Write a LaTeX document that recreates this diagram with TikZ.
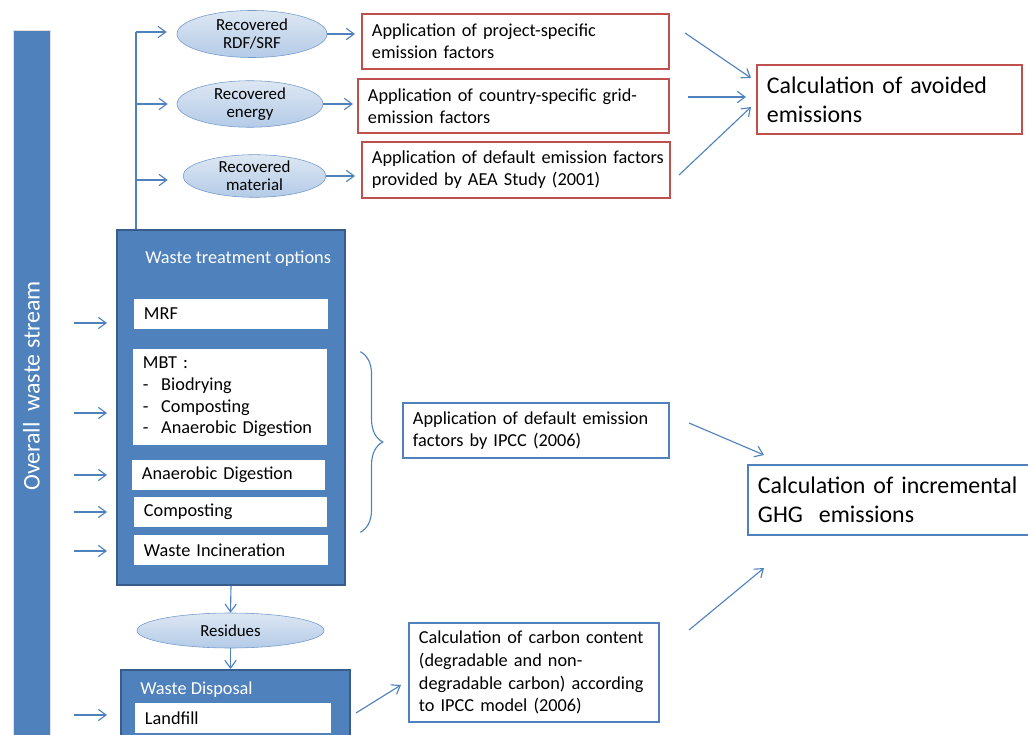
\documentclass[tikz,border=0pt]{standalone}
\usepackage{fontspec}
\setmainfont{Carlito}
\usepackage{tikz}
\usetikzlibrary{shapes.geometric, positioning}
\usetikzlibrary{arrows.meta, calc, decorations.pathreplacing}

\definecolor{wsblue}{HTML}{4F81BD}
\definecolor{wsdark}{HTML}{385D8A}
\definecolor{wsred}{HTML}{C0504D}
\definecolor{wslight}{HTML}{DDE7F3}
\definecolor{wsmid}{HTML}{B4CBE7}
\hyphenpenalty=10000

\begin{document}
\begin{tikzpicture}[
        x=0.025cm, y=-0.025cm,
        font=\fontsize{13}{15.5}\selectfont,
        arr/.style={draw=wsblue, line width=0.8pt, -{Straight Barb[length=5.5pt, width=8pt]}},
        redbox/.style={draw=wsred, line width=1.4pt, align=left, inner xsep=0.25cm, inner ysep=0pt},
        bluebox/.style={draw=wsblue, line width=1.4pt, align=left, inner xsep=0.25cm, inner ysep=0pt},
        outcome/.style={font=\fontsize{17}{20.6}\selectfont},
        optbox/.style={fill=white, align=left, inner xsep=0.25cm, inner ysep=0pt, minimum height=0.75cm},
        group/.style={fill=wsblue, draw=wsdark, line width=1.4pt},
        recovered/.style={ellipse, draw=wsblue!80, top color=wslight, bottom color=wsmid, align=center, inner sep=0pt, font=\fontsize{12}{13}\selectfont}
    ]
        \useasboundingbox (0,0) rectangle (1028,735);

        \node[fill=wsblue, draw=black!12, line width=0.6pt, rotate=90, minimum width=17.75cm, minimum height=0.925cm, text=white, font=\fontsize{17}{20}\selectfont] (stream) at (31.5,386) {Overall\ \ waste stream};

        % treatment and disposal
        \node[group, minimum width=5.7cm, minimum height=8.875cm] (treat) at (231,407.5) {};
        \node[anchor=west, text=white, inner sep=0pt] (treattitle) at (145,259) {Waste treatment options};
        \node[optbox, text width=4.35cm] (mrf) at (231,314) {MRF};
        \node[optbox, text width=4.35cm, minimum height=2.4cm] (mbt) at (230,397) {MBT :\\\makebox[13pt][l]{-}Biodrying\\\makebox[13pt][l]{-}Composting\\\makebox[13pt][l]{-}Anaerobic Digestion};
        \node[optbox, text width=4.325cm] (ad) at (228.5,475) {Anaerobic Digestion};
        \node[optbox, text width=4.325cm] (comp) at (230.5,512) {Composting};
        \node[optbox, text width=4.35cm] (inc) at (231,550) {Waste Incineration};

        \node[recovered, minimum width=4.675cm, minimum height=0.875cm] (residues) at (230.5,630.5) {Residues};
        \node[group, minimum width=5.725cm, minimum height=2cm] (disp) at (235.5,710) {};
        \node[anchor=west, text=white, inner sep=0pt] (disptitle) at (140,690) {Waste Disposal};
        \node[optbox, text width=4.4cm] (land) at (233,718) {Landfill};

        % recovered streams
        \node[recovered, minimum width=3.75cm, minimum height=1.175cm] (rdf) at (252,34) {Recovered\\RDF/SRF};
        \node[recovered, minimum width=3.65cm, minimum height=1.15cm] (energy) at (250,104) {Recovered\\energy};
        \node[recovered, minimum width=3.575cm, minimum height=1.05cm] (material) at (254.5,176) {Recovered\\material};

        \node[redbox, text width=7.175cm, minimum height=1.375cm] (app1) at (515.5,41.5) {Application of project-specific\\emission factors};
        \node[redbox, text width=7.275cm, minimum height=1.35cm] (app2) at (513.5,106) {Application of country-specific grid-\\emission factors};
        \node[redbox, text width=7.2cm, minimum height=1.4cm] (app3) at (516,170) {\mbox{Application of default emission factors}\\provided by AEA Study (2001)};
        \node[redbox, outcome, text width=6.125cm, minimum height=1.725cm] (avoided) at (889.5,99.5) {Calculation of avoided\\emissions};

        \node[bluebox, text width=6.15cm, minimum height=1.375cm] (ipcc) at (536,430.5) {Application of default emission\\factors by IPCC (2006)};
        \node[bluebox, outcome, text width=6.6cm, minimum height=1.75cm] (incr) at (890,500) {Calculation of incremental\\GHG\ \ emissions};
        \node[bluebox, text width=5.75cm, minimum height=2.475cm, font=\fontsize{13}{16.3}\selectfont] (carbon) at (534,672.5) {Calculation of carbon content\\(degradable and non-\\degradable carbon) according\\to IPCC model (2006)};

        \coordinate (trunk) at (136,32);
        \draw[draw=wsblue, line width=0.8pt] (trunk |- treat.north) -- (trunk);
        \draw[arr] (trunk) -- ($(rdf.west)+(-10,-2)$);
        \draw[arr] (trunk |- energy) -- ($(energy.west)+(-9,0)$);
        \draw[arr] ($(trunk |- material)+(0,4)$) -- ($(material.west)+(-15,4)$);

        \draw[arr] (rdf.east) -- ($(rdf.east -| app1.west)+(-6,0)$);
        \draw[arr] (energy.east) -- ($(energy.east -| app2.west)+(-4,0)$);
        \draw[arr] (material.east) -- ($(material.east -| app3.west)+(-6,0)$);

        \draw[arr] ($(app1.east)+(15,-8.5)$) -- ($(avoided.west)+(-5,-21.5)$);
        \draw[arr] ($(app2.east)+(18,-9)$) -- ($(avoided.west)+(-10,-2.5)$);
        \draw[arr] ($(app3.east)+(8,5)$) -- ($(avoided.west)+(-5,7.5)$);

        \foreach \n/\dy in {mrf/9, mbt/16, ad/0, comp/0, inc/1}
            \draw[arr] ($(\n -| treat.west)+(-42,\dy)$) -- ($(\n -| treat.west)+(-9,\dy)$);
        \draw[arr] ($(land -| disp.west)+(-46,-3)$) -- ($(land -| disp.west)+(-13,-3)$);

        \draw[arr] (treat.south) -- (residues.north);
        \draw[arr] (residues.south) -- (residues.south |- disp.north);

        \draw[draw=wsblue, line width=0.8pt, decorate, decoration={brace, amplitude=16pt}] ($(mbt.north east)+(33,3)$) -- ($(comp.south east)+(33,5)$);

        \draw[arr] ($(ipcc.east)+(19,-7.5)$) -- ($(incr.west)+(17,-45)$);
        \draw[arr] ($(carbon.east)+(29,-42.5)$) -- ($(incr.west)+(17,68)$);
        \draw[arr] ($(disp.east)+(5,3)$) -- ($(carbon.west)+(-7,12.5)$);

    \end{tikzpicture}
\end{document}
